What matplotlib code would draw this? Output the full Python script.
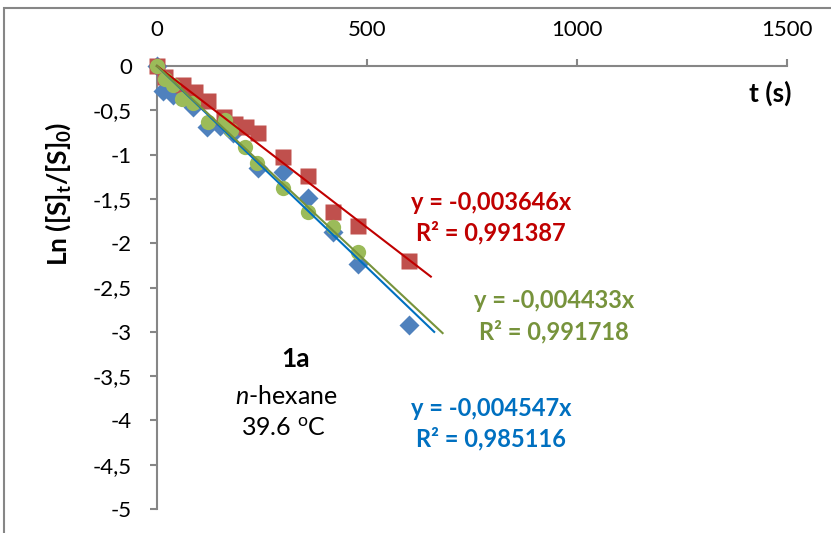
import matplotlib.pyplot as plt
from matplotlib.patches import Rectangle
from matplotlib.ticker import FuncFormatter

plt.rcParams['font.family'] = ['Lato', 'DejaVu Sans']
plt.rcParams['mathtext.fontset'] = 'custom'
plt.rcParams['mathtext.rm'] = 'Lato'
plt.rcParams['mathtext.it'] = 'Lato:italic'
plt.rcParams['mathtext.bf'] = 'Lato:bold'
plt.rcParams['mathtext.default'] = 'regular'

t_blue = [0, 15, 38, 86, 118, 150, 181, 241, 300, 360, 419, 478, 600]
y_blue = [0, -0.28, -0.33, -0.46, -0.69, -0.68, -0.76, -1.15, -1.20, -1.49, -1.87, -2.24, -2.92]

t_red = [0, 20, 62, 90, 122, 160, 185, 213, 241, 300, 360, 419, 478, 600]
y_red = [0, -0.12, -0.215, -0.29, -0.40, -0.57, -0.65, -0.69, -0.76, -1.03, -1.24, -1.65, -1.81, -2.20]

t_green = [0, 19, 39, 59, 86, 122, 161, 177, 209, 237, 300, 360, 419, 478]
y_green = [0, -0.15, -0.21, -0.37, -0.42, -0.63, -0.61, -0.72, -0.91, -1.10, -1.38, -1.65, -1.82, -2.10]

# Trendlinien (durch den Ursprung)
slopes = {'blue': -0.004547, 'red': -0.003646, 'green': -0.004433}
r2 = {'blue': 0.985116, 'red': 0.991387, 'green': 0.991718}
t_end = {'blue': 660, 'red': 652, 'green': 680}

x_ticks = [0, 500, 1000, 1500]
y_ticks = [0, -0.5, -1, -1.5, -2, -2.5, -3, -3.5, -4, -4.5, -5]

W, H = 831, 533
fig = plt.figure(figsize=(W / 100, H / 100), dpi=100)
ax = fig.add_axes([157 / W, 1 - 509 / H, (787 - 157) / W, (509 - 66) / H])


def fx(px):
    return px / W


def fy(py):
    return 1 - py / H


# Rahmen des Diagrammbereichs
fig.patches.append(Rectangle((fx(4), -0.1), 1.2, fy(8) + 0.1, transform=fig.transFigure,
                             fill=False, edgecolor='#868686', linewidth=1.5))

ax.plot(t_blue, y_blue, 'D', color='#4F81BD', ms=10, mec='none', clip_on=False, zorder=3)
ax.plot(t_red, y_red, 's', color='#C0504D', ms=11.5, mec='none', clip_on=False, zorder=3)
ax.plot(t_green, y_green, 'o', color='#9BBB59', ms=11, mec='none', clip_on=False, zorder=3)

line_cols = {'blue': '#0070C0', 'red': '#C00000', 'green': '#77933C'}
for key in ['blue', 'red', 'green']:
    ax.plot([0, t_end[key]], [0, slopes[key] * t_end[key]], color=line_cols[key], lw=1.5,
            clip_on=False, zorder=4)

ax.set_xlim(0, 1500)
ax.set_ylim(-5, 0)
ax.set_xticks(x_ticks)
ax.set_yticks(y_ticks)
ax.xaxis.tick_top()
ax.spines['bottom'].set_visible(False)
ax.spines['right'].set_visible(False)
for s in ['top', 'left']:
    ax.spines[s].set_color('#868686')
    ax.spines[s].set_linewidth(1.5)
ax.tick_params(axis='both', colors='#868686', labelcolor='black', labelsize=16,
               length=5, width=1.5, direction='out')
ax.tick_params(axis='x', pad=14)
ax.tick_params(axis='y', pad=13)
ax.yaxis.set_major_formatter(FuncFormatter(lambda v, p: ('%g' % v).replace('.', ',')))
ax.patch.set_visible(False)

fig.text(fx(58), fy(194), 'Ln ([S]$_{t}$/[S]$_{0}$)', rotation=90, ha='center', va='center',
         fontsize=19, fontweight='bold')
fig.text(fx(770), fy(93), 't (s)', ha='center', va='center', fontsize=19, fontweight='bold')

eq_pos = {'red': (491, 202), 'green': (554, 301), 'blue': (491, 408)}
for key, (px, py) in eq_pos.items():
    eq = 'y = %s' % ('%.6fx' % slopes[key]).replace('.', ',')
    rr = 'R² = %s' % ('%.6f' % r2[key]).replace('.', ',')
    fig.text(fx(px), fy(py), eq, ha='center', va='center', fontsize=17,
             fontweight='bold', color=line_cols[key])
    fig.text(fx(px), fy(py + 31), rr, ha='center', va='center', fontsize=17,
             fontweight='bold', color=line_cols[key])

fig.text(fx(296), fy(359), '1a', ha='center', va='center', fontsize=19, fontweight='bold')
fig.text(fx(286), fy(397), r'$\mathit{n}$-hexane', ha='center', va='center', fontsize=18)
fig.text(fx(283), fy(428), '39.6 $^{o}$C', ha='center', va='center', fontsize=18)

fig.savefig('out.png', dpi=100)
